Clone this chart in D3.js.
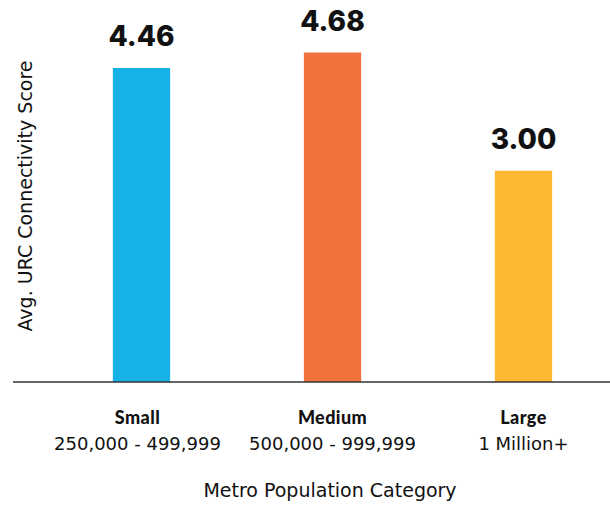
<!DOCTYPE html>
<meta charset="utf-8">
<style>
body { margin: 0; background: #fff; }
.val { font-family: Inter, sans-serif; font-weight: 800; font-size: 28px; fill: #111; }
.cat { font-family: Lato, sans-serif; font-weight: 900; font-size: 18px; letter-spacing: 0.4px; fill: #111; }
.sub { font-family: "DejaVu Sans", sans-serif; font-size: 18px; fill: #111; }
.title { font-family: "DejaVu Sans", sans-serif; font-size: 19px; fill: #111; }
.ylab { font-family: "DejaVu Sans", sans-serif; font-size: 19px; fill: #111; }
</style>
<script src="https://cdn.jsdelivr.net/npm/d3@7"></script>
<body>
<script>

var categories = ["Small", "Medium", "Large"];
var ranges = ["250,000 - 499,999", "500,000 - 999,999", "1 Million+"];
var scores = [4.46, 4.68, 3.00];
var colors = ["#16b1e6", "#f3723b", "#fdb933"];

var width = 610,
    height = 505,
    baseY = 382;

var svg = d3.select("body")
  .append("svg")
  .attr("width", width)
  .attr("height", height);

var x = d3.scaleBand()
  .domain(categories)
  .range([46, 619])
  .paddingInner(0.7)
  .paddingOuter(0.35);

var y = d3.scaleLinear()
  .domain([0, 5])
  .range([baseY, 30]);

// bars
svg.selectAll("rect.bar")
  .data(scores)
  .enter()
  .append("rect")
    .attr("class", "bar")
    .attr("x", function(d, i) { return x(categories[i]); })
    .attr("width", x.bandwidth())
    .attr("y", function(d) { return y(d); })
    .attr("height", function(d) { return baseY - y(d); })
    .attr("fill", function(d, i) { return colors[i]; });

// value labels
svg.selectAll("text.val")
  .data(scores)
  .enter()
  .append("text")
    .attr("class", "val")
    .attr("text-anchor", "middle")
    .attr("x", function(d, i) { return x(categories[i]) + x.bandwidth() / 2; })
    .attr("y", function(d) { return y(d) - 22; })
    .text(function(d) { return d.toFixed(2); });

// baseline
svg.append("line")
  .attr("x1", 13).attr("x2", width)
  .attr("y1", baseY).attr("y2", baseY)
  .attr("stroke", "#333")
  .attr("stroke-width", 1.5);

// category labels
svg.selectAll("text.cat")
  .data(categories)
  .enter()
  .append("text")
    .attr("class", "cat")
    .attr("text-anchor", "middle")
    .attr("x", function(d) { return x(d) + x.bandwidth() / 2 - (d === "Small" ? 4 : 0); })
    .attr("y", 424)
    .text(function(d) { return d; });

svg.selectAll("text.sub")
  .data(ranges)
  .enter()
  .append("text")
    .attr("class", "sub")
    .attr("text-anchor", "middle")
    .attr("x", function(d, i) { return x(categories[i]) + x.bandwidth() / 2 - (i === 0 ? 4 : 0); })
    .attr("y", 450)
    .text(function(d) { return d; });

svg.append("text")
  .attr("class", "title")
  .attr("text-anchor", "middle")
  .attr("x", 330)
  .attr("y", 497)
  .text("Metro Population Category");

svg.append("text")
  .attr("class", "ylab")
  .attr("text-anchor", "middle")
  .attr("transform", "translate(32,196) rotate(-90)")
  .text("Avg. URC Connectivity Score");

</script>
</body>
